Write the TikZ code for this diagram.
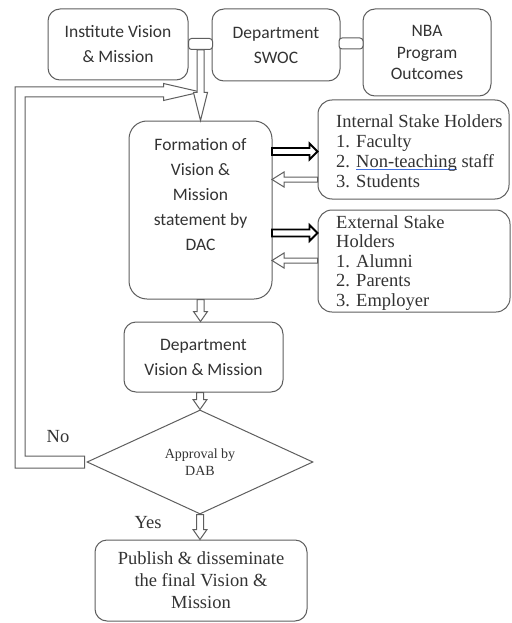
\documentclass[tikz,border=0pt]{standalone}
\usepackage{fontspec}
\setmainfont{Liberation Serif}
\newfontfamily\calibri{Carlito}
\usetikzlibrary{shapes.geometric,calc}

\definecolor{edge}{HTML}{5E5E5E}
\definecolor{ink}{HTML}{333333}
\definecolor{spell}{HTML}{3F6FE0}

% blue underline of a flagged word
\newcommand\spellmark[1]{\setbox0\hbox{#1}\rlap{\textcolor{spell}{\rule[-2.8pt]{\wd0}{1pt}}}\box0}

% hollow block arrows: style, from, to, head length, shaft half width, head half width
\newcommand\downblock[6]{\draw[#1] let \p1=(#2), \p2=(#3) in
  (\x1-#5,\y1) -- (\x1-#5,\y2+#4) -- (\x1-#6,\y2+#4) -- (\x1,\y2) --
  (\x1+#6,\y2+#4) -- (\x1+#5,\y2+#4) -- (\x1+#5,\y1) -- cycle;}
\newcommand\rightblock[6]{\draw[#1] let \p1=(#2), \p2=(#3) in
  (\x1,\y1-#5) -- (\x2-#4,\y1-#5) -- (\x2-#4,\y1-#6) -- (\x2,\y1) --
  (\x2-#4,\y1+#6) -- (\x2-#4,\y1+#5) -- (\x1,\y1+#5) -- cycle;}
\newcommand\leftblock[6]{\draw[#1] let \p1=(#2), \p2=(#3) in
  (\x1,\y1-#5) -- (\x2+#4,\y1-#5) -- (\x2+#4,\y1-#6) -- (\x2,\y1) --
  (\x2+#4,\y1+#6) -- (\x2+#4,\y1+#5) -- (\x1,\y1+#5) -- cycle;}

\tikzset{
  box/.style={draw=edge, line width=1pt, rounded corners=12pt, fill=white, inner sep=0pt},
  sanstext/.style={font=\calibri\fontsize{17.5}{25}\selectfont, text=ink, align=center},
  sertext/.style={font=\fontsize{18.5}{22}\selectfont, text=ink},
  listtext/.style={font=\fontsize{18.5}{20}\selectfont, text=ink, align=left, inner sep=0pt, anchor=north west},
  linkbar/.style={draw=edge, line width=1pt, rounded corners=3pt, fill=white, inner sep=0pt,
                  minimum width=24pt, minimum height=11pt},
  hollow/.style={draw=edge, line width=1pt, fill=white, line join=miter},
  heavy/.style={draw=black, line width=1.8pt, fill=white, line join=miter},
  decision/.style={diamond, draw=edge, line width=1pt, fill=white, inner sep=0pt, aspect=2.17,
                   minimum width=226pt, minimum height=104pt,
                   font=\fontsize{14}{17}\selectfont, text=ink, align=center},
}

\begin{document}
\begin{tikzpicture}[x=1pt,y=-1pt]
\useasboundingbox (0,0) rectangle (511,623);
\fill[white] (0,0) rectangle (511,623);

% sources feeding the formation step
\node[box, sanstext, minimum width=140pt, minimum height=71pt] (inst) at (118,44.5) {Institute Vision\\\& Mission};
\node[box, sanstext, minimum width=128pt, minimum height=72pt] (swoc) at (276,45) {Department\\SWOC};
\node[box, sanstext, font=\calibri\fontsize{17.5}{21.7}\selectfont, minimum width=128pt, minimum height=87pt] (nba) at (427,52.5) {NBA\\Program\\Outcomes};
\node[linkbar] (conn1) at (200.5,44) {};
\node[linkbar] (conn2) at (351,43.5) {};

% loop back from the decision
\node[decision] (dab) at (200,462) {Approval by\\DAB};
\coordinate (loopin) at (200.5,92);
\draw[hollow] let \p1=(dab.west), \p2=(loopin) in
  (\x1-2pt,\y1+6pt) -- (25pt,\y1+6pt) -- (25pt,\y2-5pt) -- (\x2-37pt,\y2-5pt) -- (\x2-37pt,\y2-8.5pt) --
  (\x2,\y2) -- (\x2-37pt,\y2+8.5pt) -- (\x2-37pt,\y2+5pt) -- (15pt,\y2+5pt) -- (15pt,\y1-6pt) --
  (\x1-2pt,\y1-6pt) -- cycle;
\node[sertext] (no) at (58,437) {No};
\node[sertext] (yes) at (148,523) {Yes};

% formation by DAC
\node[box, rounded corners=18pt, minimum width=143pt, minimum height=178pt] (dac) at (200.5,210) {};
\node[sanstext, inner sep=0pt] (dactext) at (200.5,194.5) {Formation of\\Vision \&\\Mission\\statement by\\DAC};

% stake holders
\node[box, rounded corners=14pt, minimum width=191pt, minimum height=99pt] (internal) at (413.5,149.5) {};
\node[listtext] (internaltext) at (336,114) {Internal Stake Holders\\1. Faculty\\2. \spellmark{Non-teaching}\ staff\\3. Students};
\node[box, rounded corners=14pt, minimum width=192pt, minimum height=102pt] (external) at (414,261) {};
\node[listtext, font=\fontsize{18.5}{19.5}\selectfont] (externaltext) at (336,215) {External Stake\\Holders\\1. Alumni\\2. Parents\\3. Employer};

% later steps
\node[box, sanstext, minimum width=159pt, minimum height=70pt] (dept) at (203.5,357) {Department\\Vision \& Mission};
\node[box, sertext, align=center, minimum width=212pt, minimum height=81pt] (pub) at (201,580.5) {Publish \& disseminate\\the final Vision \&\\Mission};

% vertical flow
\downblock{hollow}{conn1.south}{dac.north}{28pt}{3.5pt}{7pt}
\downblock{hollow}{dac.south}{dac.south |- dept.north}{10pt}{3.5pt}{7pt}
\downblock{hollow}{dab.north |- dept.south}{dab.north}{10pt}{3.5pt}{7pt}
\downblock{hollow}{dab.south}{dab.south |- pub.north}{10pt}{3.5pt}{7pt}

% exchange with stake holders
\coordinate (r1) at (272,151.5);
\coordinate (l1) at (272,179.5);
\coordinate (r2) at (272,233);
\coordinate (l2) at (272,260.5);
\rightblock{heavy}{r1}{r1 -| internal.west}{8pt}{3.5pt}{8pt}
\leftblock{hollow}{l1 -| internal.west}{l1}{12pt}{2.5pt}{7.5pt}
\rightblock{heavy}{r2}{r2 -| external.west}{8pt}{3.5pt}{8pt}
\leftblock{hollow}{l2 -| external.west}{l2}{12pt}{2.5pt}{7.5pt}
\end{tikzpicture}
\end{document}
